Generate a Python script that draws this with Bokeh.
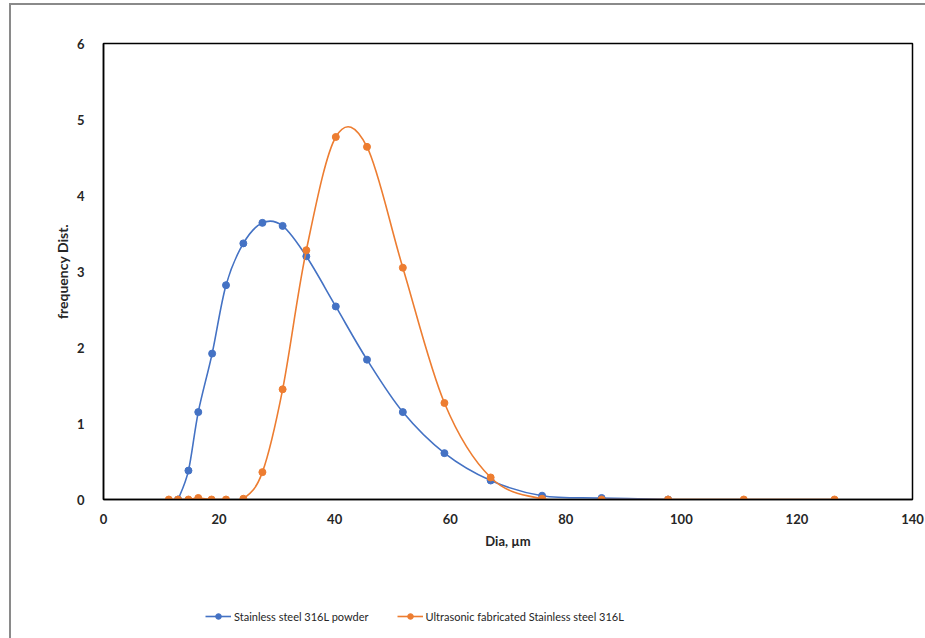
from bokeh.plotting import figure
from bokeh.layouts import column
from bokeh.models import Range1d, FixedTicker, Legend, LegendItem
from bokeh.embed import file_html
from bokeh.resources import INLINE

# ---- data ----
powder_dia = [12.9, 14.7, 16.4, 18.8, 21.2, 24.2, 27.5, 31.0, 35.1, 40.2, 45.6, 51.8, 59.0, 67.0, 75.9, 86.2, 97.7]
powder_freq = [0.0, 0.38, 1.15, 1.92, 2.82, 3.37, 3.64, 3.60, 3.20, 2.54, 1.84, 1.15, 0.61, 0.25, 0.05, 0.02, 0.0]

ultra_dia = [11.3, 12.9, 14.7, 16.4, 18.7, 21.2, 24.2, 27.5, 31.0, 35.1, 40.2, 45.6, 51.8, 59.0, 67.0, 75.9, 86.2, 97.7, 110.8, 126.5]
ultra_freq = [0.0, 0.0, 0.0, 0.02, 0.0, 0.0, 0.01, 0.36, 1.45, 3.28, 4.77, 4.64, 3.05, 1.27, 0.29, 0.01, 0.0, 0.0, 0.0, 0.0]

x_ticks = [0, 20, 40, 60, 80, 100, 120, 140]
y_ticks = [0, 1, 2, 3, 4, 5, 6]

series_names = ["Stainless steel 316L powder", "Ultrasonic fabricated Stainless steel 316L"]
colors = ["#4472C4", "#ED7D31"]

FONT = "Lato"


def smooth_segments(xs, ys):
    """Bezier control points for Excel-like smoothed lines (Catmull-Rom)."""
    n = len(xs)
    seg = dict(x0=[], y0=[], x1=[], y1=[], cx0=[], cy0=[], cx1=[], cy1=[])
    for i in range(n - 1):
        ip = max(i - 1, 0)
        inx = min(i + 2, n - 1)
        seg["x0"].append(xs[i]); seg["y0"].append(ys[i])
        seg["x1"].append(xs[i + 1]); seg["y1"].append(ys[i + 1])
        seg["cx0"].append(xs[i] + (xs[i + 1] - xs[ip]) / 6.0)
        seg["cy0"].append(ys[i] + (ys[i + 1] - ys[ip]) / 6.0)
        seg["cx1"].append(xs[i + 1] - (xs[inx] - xs[i]) / 6.0)
        seg["cy1"].append(ys[i + 1] - (ys[inx] - ys[i]) / 6.0)
    return seg


p = figure(width=915, height=580, output_backend="svg", toolbar_location=None,
           x_range=Range1d(0, 140), y_range=Range1d(0, 6),
           min_border_left=92, min_border_top=38, min_border_right=14, min_border_bottom=86)

p.grid.visible = False
p.outline_line_color = "black"
p.outline_line_width = 1.5
p.background_fill_color = "white"
p.border_fill_color = "white"

for ax in (p.xaxis[0], p.yaxis[0]):
    ax.axis_line_color = "black"
    ax.axis_line_width = 1.5
    ax.major_tick_line_color = None
    ax.minor_tick_line_color = None
    ax.major_label_text_font = FONT
    ax.major_label_text_font_style = "bold"
    ax.major_label_text_font_size = "13px"
    ax.major_label_text_color = "#262626"
    ax.axis_label_text_font = FONT
    ax.axis_label_text_font_style = "bold"
    ax.axis_label_text_font_size = "13px"
    ax.axis_label_text_color = "#262626"

p.yaxis.axis_label_text_font_size = "14px"
p.xaxis.ticker = FixedTicker(ticks=x_ticks)
p.yaxis.ticker = FixedTicker(ticks=y_ticks)
p.xaxis.major_label_standoff = 8
p.yaxis.major_label_standoff = 13
p.xaxis.axis_label = "Dia, µm"
p.yaxis.axis_label = "frequency Dist."
p.xaxis.axis_label_standoff = 6
p.yaxis.axis_label_standoff = 3

for xs, ys, c in ((powder_dia, powder_freq, colors[0]), (ultra_dia, ultra_freq, colors[1])):
    seg = smooth_segments(xs, ys)
    p.bezier(x0="x0", y0="y0", x1="x1", y1="y1", cx0="cx0", cy0="cy0", cx1="cx1", cy1="cy1",
             source=seg, line_color=c, line_width=1.6)
    p.scatter(xs, ys, size=7, fill_color=c, line_color=c)

# ---- legend strip below the chart ----
lf = figure(width=915, height=54, output_backend="svg", toolbar_location=None,
            x_range=Range1d(0, 1), y_range=Range1d(0, 1),
            min_border_left=0, min_border_right=0, min_border_top=0, min_border_bottom=0)
lf.axis.visible = False
lf.grid.visible = False
lf.outline_line_color = None
lf.border_fill_color = "white"

leg_items = []
for name, c in zip(series_names, colors):
    lr = lf.line([-5, -4], [-5, -4], line_color=c, line_width=1.6)
    sr = lf.scatter([-5], [-5], size=7, fill_color=c, line_color=c)
    leg_items.append(LegendItem(label=name, renderers=[lr, sr]))

legend = Legend(items=leg_items, orientation="horizontal", location=(102, 16),
                padding=0, margin=0, spacing=28, glyph_width=26, glyph_height=14,
                label_standoff=3, label_text_font=FONT, label_text_font_size="11px",
                label_text_color="#262626", border_line_color=None, background_fill_alpha=0)
lf.add_layout(legend, "center")

layout = column(p, lf, spacing=0)
layout.styles = {"margin-left": "9px", "margin-top": "3px",
                 "border-left": "2px solid #8a8a8a", "border-top": "2px solid #8a8a8a"}

open("out.html", "w").write(file_html(layout, INLINE))
